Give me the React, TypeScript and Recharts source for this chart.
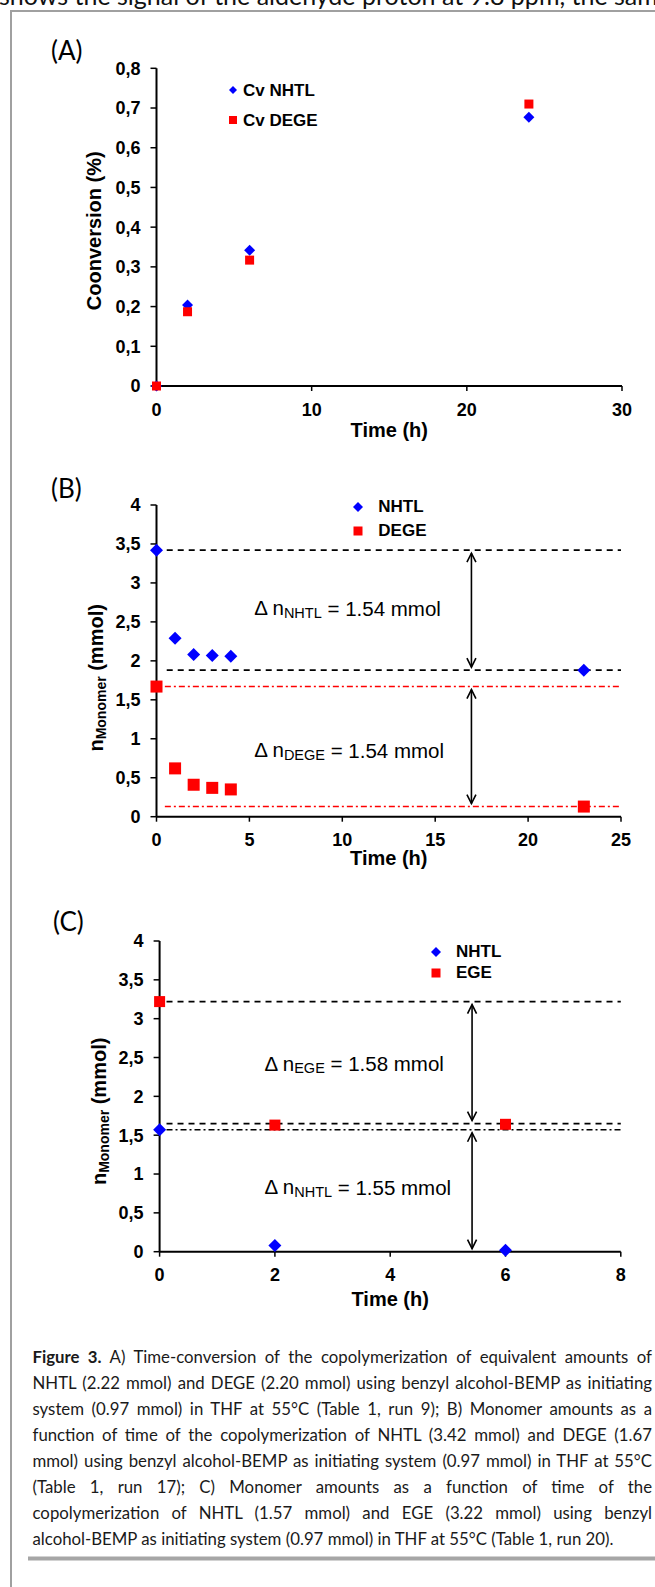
import React from 'react';
import { ScatterChart, Scatter, XAxis, YAxis, ReferenceLine, ReferenceDot, Legend } from 'recharts';

const AXIS_FONT = '"Liberation Sans", Arial, Helvetica, sans-serif';
const DOC_FONT = 'Lato, "Open Sans", "Liberation Sans", sans-serif';
const BLUE = '#0000ff';
const RED = '#ff0000';

// (A) conversion vs time
const timeA = [0, 2, 6, 24];
const convNhtlA = [0, 0.204, 0.342, 0.677];
const convDegeA = [0, 0.187, 0.317, 0.71];
const xTicksA = [0, 10, 20, 30];
const yTicksA = [0, 0.1, 0.2, 0.3, 0.4, 0.5, 0.6, 0.7, 0.8];

// (B) monomer amounts NHTL / DEGE
const timeB = [0, 1, 2, 3, 4, 23];
const nhtlB = [3.42, 2.29, 2.08, 2.07, 2.06, 1.88];
const degeB = [1.67, 0.62, 0.41, 0.37, 0.35, 0.13];
const xTicksB = [0, 5, 10, 15, 20, 25];
const nhtlLevelsB = [3.42, 1.88];
const degeLevelsB = [1.67, 0.13];

// (C) monomer amounts NHTL / EGE
const timeC = [0, 2, 6];
const nhtlC = [1.57, 0.08, 0.02];
const egeC = [3.22, 1.63, 1.64];
const xTicksC = [0, 2, 4, 6, 8];
const egeLevelsC = [3.22, 1.65];
const nhtlLevelsC = [1.57, 0];

const yTicksN = [0, 0.5, 1, 1.5, 2, 2.5, 3, 3.5, 4];

const captionLines = [
  ' A) Time-conversion of the copolymerization of equivalent amounts of',
  'NHTL (2.22 mmol) and DEGE (2.20 mmol) using benzyl alcohol-BEMP as initiating',
  'system (0.97 mmol) in THF at 55°C (Table 1, run 9); B) Monomer amounts as a',
  'function of time of the copolymerization of NHTL (3.42 mmol) and DEGE (1.67',
  'mmol) using benzyl alcohol-BEMP as initiating system (0.97 mmol) in THF at 55°C',
  '(Table 1, run 17); C) Monomer amounts as a function of time of the',
  'copolymerization of NHTL (1.57 mmol) and EGE (3.22 mmol) using benzyl',
  'alcohol-BEMP as initiating system (0.97 mmol) in THF at 55°C (Table 1, run 20).',
];

const pts = (xs: number[], ys: number[]) => xs.map((x, i) => ({ x, y: ys[i] }));
const comma = (v: number) => String(v).replace('.', ',');

const Diamond = ({ cx, cy, size, fill }: any) => {
  const r = size / 2;
  return <path d={`M${cx},${cy - r}L${cx + r},${cy}L${cx},${cy + r}L${cx - r},${cy}Z`} fill={fill} />;
};
const Square = ({ cx, cy, size, fill }: any) => (
  <rect x={cx - size / 2} y={cy - size / 2} width={size} height={size} fill={fill} />
);

const DoubleArrow = (props: any) => {
  const { x1, y1, y2 } = props;
  const top = Math.min(y1, y2) + 3;
  const bot = Math.max(y1, y2) - 3;
  return (
    <g stroke="#000" strokeWidth={1.6} fill="none">
      <line x1={x1} y1={top} x2={x1} y2={bot} />
      <polyline points={`${x1 - 4.5},${top + 9} ${x1},${top} ${x1 + 4.5},${top + 9}`} />
      <polyline points={`${x1 - 4.5},${bot - 9} ${x1},${bot} ${x1 + 4.5},${bot - 9}`} />
    </g>
  );
};

const deltaLabel = (sub: string, val: string) => (props: any) => (
  <text x={props.cx} y={props.cy} dominantBaseline="central" fontFamily={AXIS_FONT} fontSize={20.5} fill="#000">
    Δ n<tspan fontSize={14.5} dy={5}>{sub}</tspan>
    <tspan dy={-5}>{` = ${val} mmol`}</tspan>
  </text>
);

const yTitle = (x: number, dy: number, main: string, sub?: string, tail?: string) => (props: any) => {
  const vb = props.viewBox;
  const cy = vb.y + vb.height / 2 + dy;
  return (
    <text
      transform={`rotate(-90 ${x} ${cy})`}
      x={x}
      y={cy}
      textAnchor="middle"
      dominantBaseline="central"
      fontFamily={AXIS_FONT}
      fontWeight="bold"
      fontSize={20}
      fill="#000"
    >
      {main}
      {sub && <tspan fontSize={14} dy={5}>{sub}</tspan>}
      {tail && <tspan dy={sub ? -5 : 0}>{tail}</tspan>}
    </text>
  );
};

const xTitle = (off: number) => (props: any) => {
  const vb = props.viewBox;
  return (
    <text
      x={vb.x + vb.width / 2}
      y={vb.y + off}
      textAnchor="middle"
      dominantBaseline="central"
      fontFamily={AXIS_FONT}
      fontWeight="bold"
      fontSize={20}
      fill="#000"
    >
      Time (h)
    </text>
  );
};

// diamond series listed first, as in the original legends
const legendContent = (rowH: number, gap: number, dSize: number, sSize: number) => (props: any) => {
  const items = [...(props.payload || [])].sort((a: any, b: any) =>
    (a.type === 'diamond' ? 0 : 1) - (b.type === 'diamond' ? 0 : 1)
  );
  return (
    <div>
      {items.map((e: any, i: number) => (
        <div key={i} style={{ display: 'flex', alignItems: 'center', height: rowH }}>
          <svg width={12} height={12} style={{ display: 'block' }}>
            {e.type === 'diamond'
              ? <Diamond cx={6} cy={6} size={dSize} fill={e.color} />
              : <Square cx={6} cy={6} size={sSize} fill={e.color} />}
          </svg>
          <span style={{ marginLeft: gap, fontFamily: AXIS_FONT, fontWeight: 700, fontSize: 17, color: '#000', lineHeight: 1, whiteSpace: 'nowrap' }}>
            {e.value}
          </span>
        </div>
      ))}
    </div>
  );
};

const tickStyle = { fill: '#000', fontSize: 18, fontWeight: 700, fontFamily: AXIS_FONT };
const axisLine = { stroke: '#000', strokeWidth: 2 };
const tickLine = { stroke: '#000', strokeWidth: 1.5 };

const dashed = { stroke: '#000', strokeWidth: 1.8, strokeDasharray: '6 5' };
const dashDotRed = { stroke: RED, strokeWidth: 1.6, strokeDasharray: '6 3 2 3' };
const dashDotBlack = { stroke: '#000', strokeWidth: 1.6, strokeDasharray: '6 3 2 3' };

export default function App() {
  return (
    <div style={{ position: 'absolute', left: 0, top: 0, width: 655, height: 1587, overflow: 'hidden', background: '#fff' }}>
      <svg style={{ position: 'absolute', left: 0, top: 0 }} width={655} height={1587}>
        <text x={-1} y={5} fontFamily={DOC_FONT} fontSize={25} fill="#111">
          shows the signal of the aldehyde proton at 9.8 ppm, the same
        </text>
        <line x1={11} y1={10} x2={11} y2={1587} stroke="#a0a0a0" strokeWidth={2} />
        <line x1={10} y1={11} x2={655} y2={11} stroke="#a0a0a0" strokeWidth={2} />
        <text x={51} y={60} fontFamily={DOC_FONT} fontSize={26} fill="#000">(A)</text>
        <text x={51} y={498} fontFamily={DOC_FONT} fontSize={26} fill="#000">(B)</text>
        <text x={53} y={931} fontFamily={DOC_FONT} fontSize={26} fill="#000">(C)</text>
        <rect x={28} y={1556.5} width={627} height={4} fill="#a6a6a6" />
      </svg>

      {/* (A) */}
      <div style={{ position: 'absolute', left: 0, top: 40 }}>
        <ScatterChart width={655} height={420} margin={{ top: 28.3, right: 33, bottom: 14, left: 0 }}>
          <XAxis
            type="number"
            dataKey="x"
            domain={[0, 30]}
            ticks={xTicksA}
            interval={0}
            tick={tickStyle}
            tickSize={5}
            tickMargin={12}
            axisLine={axisLine}
            tickLine={tickLine}
            height={60}
            label={xTitle(44)}
          />
          <YAxis
            type="number"
            dataKey="y"
            domain={[0, 0.8]}
            ticks={yTicksA}
            interval={0}
            tickFormatter={comma}
            tick={tickStyle}
            tickSize={6}
            tickMargin={10}
            axisLine={axisLine}
            tickLine={tickLine}
            width={156.5}
            label={yTitle(94, 3.6, 'Coonversion (%)')}
          />
          <Legend
            layout="vertical"
            verticalAlign="middle"
            align="center"
            wrapperStyle={{ left: 227, top: 35, width: 'auto' }}
            content={legendContent(30, 4, 8, 8)}
          />
          <Scatter
            name="Cv NHTL"
            data={pts(timeA, convNhtlA)}
            fill={BLUE}
            legendType="diamond"
            isAnimationActive={false}
            shape={(p: any) => <Diamond cx={p.cx} cy={p.cy} size={11} fill={BLUE} />}
          />
          <Scatter
            name="Cv DEGE"
            data={pts(timeA, convDegeA)}
            fill={RED}
            legendType="square"
            isAnimationActive={false}
            shape={(p: any) => <Square cx={p.cx} cy={p.cy} size={9} fill={RED} />}
          />
        </ScatterChart>
      </div>

      {/* (B) */}
      <div style={{ position: 'absolute', left: 0, top: 470 }}>
        <ScatterChart width={655} height={410} margin={{ top: 35, right: 34, bottom: 13.3, left: 0 }}>
          <XAxis
            type="number"
            dataKey="x"
            domain={[0, 25]}
            ticks={xTicksB}
            interval={0}
            tick={tickStyle}
            tickSize={5}
            tickMargin={12}
            axisLine={axisLine}
            tickLine={tickLine}
            height={50}
            label={xTitle(41)}
          />
          <YAxis
            type="number"
            dataKey="y"
            domain={[0, 4]}
            ticks={yTicksN}
            interval={0}
            tickFormatter={comma}
            tick={tickStyle}
            tickSize={6}
            tickMargin={10}
            axisLine={axisLine}
            tickLine={tickLine}
            width={156.5}
            label={yTitle(96, 17, 'n', 'Monomer', ' (mmol)')}
          />
          <ReferenceLine segment={[{ x: 0.55, y: nhtlLevelsB[0] }, { x: 25, y: nhtlLevelsB[0] }]} {...dashed} />
          <ReferenceLine segment={[{ x: 0.55, y: nhtlLevelsB[1] }, { x: 25, y: nhtlLevelsB[1] }]} {...dashed} />
          <ReferenceLine segment={[{ x: 0.45, y: degeLevelsB[0] }, { x: 25, y: degeLevelsB[0] }]} {...dashDotRed} />
          <ReferenceLine segment={[{ x: 0.45, y: degeLevelsB[1] }, { x: 25, y: degeLevelsB[1] }]} {...dashDotRed} />
          <ReferenceLine segment={[{ x: 16.95, y: nhtlLevelsB[0] }, { x: 16.95, y: nhtlLevelsB[1] }]} shape={DoubleArrow} />
          <ReferenceLine segment={[{ x: 16.95, y: degeLevelsB[0] }, { x: 16.95, y: degeLevelsB[1] }]} shape={DoubleArrow} />
          <ReferenceDot x={5.26} y={2.68} r={0} shape={deltaLabel('NHTL', '1.54')} />
          <ReferenceDot x={5.26} y={0.86} r={0} shape={deltaLabel('DEGE', '1.54')} />
          <Legend
            layout="vertical"
            verticalAlign="middle"
            align="center"
            wrapperStyle={{ left: 352.3, top: 24.7, width: 'auto' }}
            content={legendContent(24, 14, 10, 9)}
          />
          <Scatter
            name="NHTL"
            data={pts(timeB, nhtlB)}
            fill={BLUE}
            legendType="diamond"
            isAnimationActive={false}
            shape={(p: any) => <Diamond cx={p.cx} cy={p.cy} size={13} fill={BLUE} />}
          />
          <Scatter
            name="DEGE"
            data={pts(timeB, degeB)}
            fill={RED}
            legendType="square"
            isAnimationActive={false}
            shape={(p: any) => <Square cx={p.cx} cy={p.cy} size={12} fill={RED} />}
          />
        </ScatterChart>
      </div>

      {/* (C) */}
      <div style={{ position: 'absolute', left: 0, top: 900 }}>
        <ScatterChart width={655} height={420} margin={{ top: 41, right: 34.2, bottom: 8.3, left: 0 }}>
          <XAxis
            type="number"
            dataKey="x"
            domain={[0, 8]}
            ticks={xTicksC}
            interval={0}
            tick={tickStyle}
            tickSize={5}
            tickMargin={12}
            axisLine={axisLine}
            tickLine={tickLine}
            height={60}
            label={xTitle(47.5)}
          />
          <YAxis
            type="number"
            dataKey="y"
            domain={[0, 4]}
            ticks={yTicksN}
            interval={0}
            tickFormatter={comma}
            tick={tickStyle}
            tickSize={6}
            tickMargin={10}
            axisLine={axisLine}
            tickLine={tickLine}
            width={159.6}
            label={yTitle(99, 15, 'n', 'Monomer', ' (mmol)')}
          />
          <ReferenceLine segment={[{ x: 0.12, y: egeLevelsC[0] }, { x: 8, y: egeLevelsC[0] }]} {...dashed} />
          <ReferenceLine segment={[{ x: 0.12, y: egeLevelsC[1] }, { x: 8, y: egeLevelsC[1] }]} {...dashed} />
          <ReferenceLine segment={[{ x: 0.12, y: nhtlLevelsC[0] }, { x: 8, y: nhtlLevelsC[0] }]} {...dashDotBlack} />
          <ReferenceLine segment={[{ x: 5.42, y: egeLevelsC[0] }, { x: 5.42, y: egeLevelsC[1] }]} shape={DoubleArrow} />
          <ReferenceLine segment={[{ x: 5.42, y: nhtlLevelsC[0] }, { x: 5.42, y: nhtlLevelsC[1] }]} shape={DoubleArrow} />
          <ReferenceDot x={1.82} y={2.425} r={0} shape={deltaLabel('EGE', '1.58')} />
          <ReferenceDot x={1.82} y={0.837} r={0} shape={deltaLabel('NHTL', '1.55')} />
          <Legend
            layout="vertical"
            verticalAlign="middle"
            align="center"
            wrapperStyle={{ left: 430, top: 41.2, width: 'auto' }}
            content={legendContent(21, 14, 10, 9)}
          />
          <Scatter
            name="NHTL"
            data={pts(timeC, nhtlC)}
            fill={BLUE}
            legendType="diamond"
            isAnimationActive={false}
            shape={(p: any) => <Diamond cx={p.cx} cy={p.cy} size={13} fill={BLUE} />}
          />
          <Scatter
            name="EGE"
            data={pts(timeC, egeC)}
            fill={RED}
            legendType="square"
            isAnimationActive={false}
            shape={(p: any) => <Square cx={p.cx} cy={p.cy} size={11} fill={RED} />}
          />
        </ScatterChart>
      </div>

      {captionLines.map((line, i) => (
        <div
          key={i}
          style={{
            position: 'absolute',
            left: 32.5,
            width: 619.5,
            top: 1343.7 + i * 26.04,
            height: 26,
            lineHeight: '26px',
            fontFamily: DOC_FONT,
            fontSize: 16.8,
            color: '#1a1a1a',
            textAlign: 'justify',
            textAlignLast: i < captionLines.length - 1 ? 'justify' : 'left',
          }}
        >
          {i === 0 && <b>Figure 3.</b>}
          {line}
        </div>
      ))}
    </div>
  );
}
